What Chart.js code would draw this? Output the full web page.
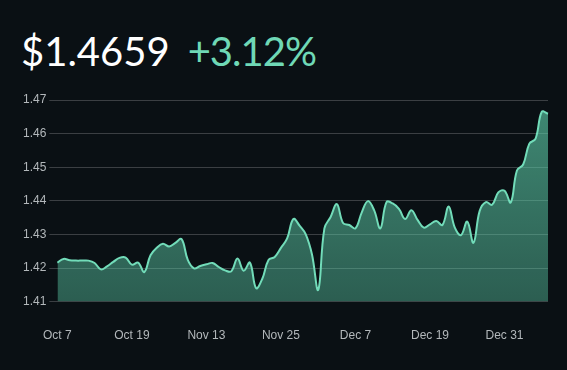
<!DOCTYPE html>
<html>
<head>
<meta charset="utf-8">
<script src="https://cdn.jsdelivr.net/npm/chart.js@4.4.1/dist/chart.umd.min.js"></script>
<style type="text/css">
    html, body { margin: 0; padding: 0; background: #0a1014; }
    body { width: 567px; height: 370px; position: relative; overflow: hidden; }
    .head { position: absolute; left: 21px; top: 27px; font-family: Lato, "Open Sans", sans-serif; font-size: 40px; font-weight: 400; white-space: nowrap; }
    .price { color: #ffffff; }
    .change { color: #6fd8b6; margin-left: 18px; letter-spacing: -1px; }
    .chart-container { position: absolute; left: 0; top: 0; width: 567px; height: 370px; }
</style>
</head>
<body>
    <div class="head"><span class="price">$1.4659</span><span class="change">+3.12%</span></div>
    <div class="chart-container">
        <canvas id="myChart"></canvas>
    </div>
<script>
    // daily closes, Oct 7 - Oct 30 then Nov 13 - Jan 7
    var prices = [
        1.4216, 1.4227, 1.4223, 1.4222, 1.4222, 1.4222, 1.4215, 1.4196, 1.4205, 1.4218,
        1.4230, 1.4231, 1.4210, 1.4216, 1.4188, 1.4238, 1.4260, 1.4272, 1.4264, 1.4275,
        1.4286, 1.4224, 1.4199, 1.4206, 1.4211, 1.4215, 1.4203, 1.4193, 1.4190, 1.4228,
        1.4192, 1.4216, 1.4140, 1.4168, 1.4224, 1.4233, 1.4260, 1.4288, 1.4346, 1.4326,
        1.4300, 1.4240, 1.4135, 1.4318, 1.4352, 1.4390, 1.4334, 1.4328, 1.4318, 1.4365,
        1.4399, 1.4372, 1.4318, 1.4396, 1.4392, 1.4376, 1.4346, 1.4372, 1.4343, 1.4320,
        1.4330, 1.4340, 1.4328, 1.4383, 1.4320, 1.4298, 1.4338, 1.4275, 1.4370, 1.4396,
        1.4388, 1.4425, 1.4430, 1.4395, 1.4490, 1.4508, 1.4570, 1.4585, 1.4665, 1.4659
    ];
    var months = ["Jan","Feb","Mar","Apr","May","Jun","Jul","Aug","Sep","Oct","Nov","Dec"];
    var ranges = [["2024-10-07", 24], ["2024-11-13", 56]];
    var yTicks = [1.41, 1.42, 1.43, 1.44, 1.45, 1.46, 1.47];
    var labelEvery = 12;

    var labels = [];
    ranges.forEach(function(r) {
        var d = new Date(r[0] + "T12:00:00");
        for (var k = 0; k < r[1]; k++) {
            labels.push(months[d.getMonth()] + " " + d.getDate());
            d.setDate(d.getDate() + 1);
        }
    });

    var ctx = document.getElementById('myChart').getContext('2d');

    var fillGradient = function(context) {
        var area = context.chart.chartArea;
        if (!area) return 'rgba(94,206,170,0.5)';
        var g = context.chart.ctx.createLinearGradient(0, area.top, 0, area.bottom);
        g.addColorStop(0, 'rgba(94,206,170,0.64)');
        g.addColorStop(1, 'rgba(94,206,170,0.41)');
        return g;
    };

    var chart = new Chart(ctx, {
        type: 'line',
        data: {
            labels: labels,
            datasets: [{
                label: 'Price',
                data: prices,
                borderColor: '#72dcb9',
                borderWidth: 2,
                backgroundColor: fillGradient,
                fill: 'start',
                tension: 0.4,
                pointRadius: 0
            }]
        },
        options: {
            responsive: true,
            maintainAspectRatio: false,
            animation: false,
            layout: { padding: { top: 100, left: 20, right: 16, bottom: 8 } },
            plugins: { legend: { display: false }, tooltip: { enabled: false } },
            scales: {
                x: {
                    grid: { display: false },
                    border: { display: false },
                    ticks: {
                        autoSkip: false,
                        maxRotation: 0,
                        padding: 19,
                        color: '#b3b8bb',
                        font: { family: '"Liberation Sans", Arial, sans-serif', size: 12 },
                        callback: function(v, i) { return i % labelEvery === 0 ? labels[i] : ''; }
                    }
                },
                y: {
                    min: yTicks[0],
                    max: yTicks[yTicks.length - 1],
                    afterBuildTicks: function(axis) { axis.ticks = yTicks.map(function(v) { return { value: v }; }); },
                    grid: { color: 'rgba(255,255,255,0.2)', tickLength: 8 },
                    border: { display: false },
                    ticks: {
                        padding: 3,
                        color: '#b3b8bb',
                        font: { family: '"Liberation Sans", Arial, sans-serif', size: 12 },
                        callback: function(v) { return v.toFixed(2); }
                    }
                }
            }
        }
    });
</script>
</body>
</html>
